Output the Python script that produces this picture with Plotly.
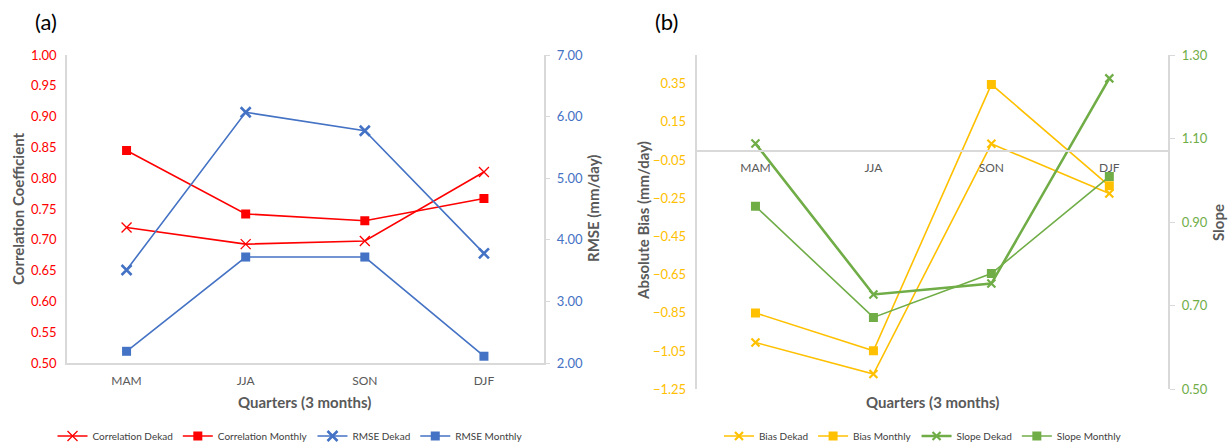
import plotly.graph_objects as go

quarters = ["MAM", "JJA", "SON", "DJF"]

corr_dekad = [0.72, 0.693, 0.698, 0.81]
corr_monthly = [0.845, 0.742, 0.731, 0.767]
rmse_dekad = [3.51, 6.07, 5.77, 3.78]
rmse_monthly = [2.19, 3.72, 3.72, 2.11]

bias_dekad = [-1.005, -1.17, 0.035, -0.225]
bias_monthly = [-0.85, -1.048, 0.346, -0.185]
slope_dekad = [1.088, 0.727, 0.753, 1.244]
slope_monthly = [0.938, 0.672, 0.777, 1.009]

RED = "#FF0000"
BLUE = "#4472C4"
GOLD = "#FFC000"
GREEN = "#70AD47"
GRAY = "#595959"
AXIS = "#D9D9D9"
FONT = "Lato"

W, H = 1231, 445

def px(y):
    return 1 - y / H

a_dom_x = [67 / W, 543.5 / W]
b_dom_x = [696.5 / W, 1168.3 / W]
a_dom_y = [px(363), px(55)]
b_dom_y = [px(389.3), px(55)]

b_range = [-1.25, 0.5]
# position of the category axis crossing the bias axis at zero
b_cross = b_dom_y[0] + (0 - b_range[0]) / (b_range[1] - b_range[0]) * (b_dom_y[1] - b_dom_y[0])

fig = go.Figure()

def add(name, x, y, color, symbol, size, lw, xa, ya, legend, mlw=None):
    marker = dict(symbol=symbol, size=size, color=color)
    if mlw is not None:
        marker["line"] = dict(color=color, width=mlw)
    fig.add_trace(go.Scatter(x=x, y=y, name=name, mode="lines+markers",
                             line=dict(color=color, width=lw), marker=marker,
                             xaxis=xa, yaxis=ya, legend=legend))

add("Correlation Dekad", quarters, corr_dekad, RED, "x-thin", 10, 1.6, "x", "y", "legend", 1.3)
add("Correlation Monthly", quarters, corr_monthly, RED, "square", 9, 1.6, "x", "y", "legend")
add("RMSE Dekad", quarters, rmse_dekad, BLUE, "x-thin", 10, 1.6, "x", "y2", "legend", 2.6)
add("RMSE Monthly", quarters, rmse_monthly, BLUE, "square", 9, 1.6, "x", "y2", "legend")

add("Bias Dekad", quarters, bias_dekad, GOLD, "x-thin", 8, 1.6, "x2", "y3", "legend2", 2.2)
add("Bias Monthly", quarters, bias_monthly, GOLD, "square", 9, 1.6, "x2", "y3", "legend2")
add("Slope Dekad", quarters, slope_dekad, GREEN, "x-thin", 8, 2.6, "x2", "y4", "legend2", 2.2)
add("Slope Monthly", quarters, slope_monthly, GREEN, "square", 9, 1.6, "x2", "y4", "legend2")

cat_font = dict(family=FONT, size=12, color=GRAY)
leg_font = dict(family=FONT, size=10, color="#404040")

fig.update_layout(
    width=W, height=H,
    margin=dict(l=0, r=0, t=0, b=0, autoexpand=False),
    paper_bgcolor="white", plot_bgcolor="white",
    font=dict(family=FONT, color=GRAY),
    xaxis=dict(domain=a_dom_x, anchor="y", showline=True, linecolor=AXIS, linewidth=1.5,
               showgrid=False, ticks="", tickfont=cat_font, range=[-0.5, 3.5],
               fixedrange=True, ticklabelstandoff=6),
    yaxis=dict(domain=a_dom_y, anchor="x", range=[0.5, 1.0], dtick=0.05, tick0=0.5,
               tickformat=".2f", showline=True, linecolor=AXIS, linewidth=1.5,
               showgrid=False, zeroline=False, ticks="",
               tickfont=dict(family=FONT, size=13, color=RED), ticklabelstandoff=6),
    yaxis2=dict(overlaying="y", anchor="x", side="right", range=[2, 7], dtick=1,
                tickformat=".2f", showline=True, linecolor=AXIS, linewidth=1.5,
                showgrid=False, zeroline=False, ticks="outside", ticklen=5, tickcolor=AXIS,
                tickfont=dict(family=FONT, size=13, color=BLUE), ticklabelstandoff=4),
    xaxis2=dict(domain=b_dom_x, anchor="free", position=b_cross, showline=True,
                linecolor=AXIS, linewidth=1.5, showgrid=False, ticks="", tickfont=cat_font,
                range=[-0.5, 3.5], ticklabelstandoff=6),
    yaxis3=dict(domain=b_dom_y, anchor="x2", range=b_range, dtick=0.2, tick0=-1.25,
                tickformat=".2f", showline=True, linecolor=AXIS, linewidth=1.5,
                showgrid=False, zeroline=False, ticks="",
                tickfont=dict(family=FONT, size=13, color=GOLD), ticklabelstandoff=6),
    yaxis4=dict(overlaying="y3", anchor="x2", side="right", range=[0.5, 1.3], dtick=0.2,
                tick0=0.5, tickformat=".2f", showline=True, linecolor=AXIS, linewidth=1.5,
                showgrid=False, zeroline=False, ticks="outside", ticklen=5, tickcolor=AXIS,
                tickfont=dict(family=FONT, size=13, color=GREEN), ticklabelstandoff=4),
    legend=dict(orientation="h", x=290 / W, xanchor="center", y=px(436), yanchor="middle",
                font=leg_font, bgcolor="rgba(0,0,0,0)", tracegroupgap=0),
    legend2=dict(orientation="h", x=923 / W, xanchor="center", y=px(436), yanchor="middle",
                 font=leg_font, bgcolor="rgba(0,0,0,0)", tracegroupgap=0),
    showlegend=True,
)

ann = []
for txt, x in [("(a)", 46), ("(b)", 666)]:
    ann.append(dict(text=txt, x=x / W, y=px(22), xref="paper", yref="paper", showarrow=False,
                    xanchor="center", yanchor="middle",
                    font=dict(family=FONT, size=22, color="black")))
title_font = dict(family=FONT, size=15, color=GRAY)
for x in [304, 932]:
    ann.append(dict(text="<b>Quarters (3 months)</b>", x=x / W, y=px(402), xref="paper",
                    yref="paper", showarrow=False, xanchor="center", yanchor="middle",
                    font=title_font))
for txt, x, y in [("<b>Correlation Coefficient</b>", 18, 209),
                  ("<b>RMSE (mm/day)</b>", 593, 209),
                  ("<b>Absolute Bias (mm/day)</b>", 643, 221),
                  ("<b>Slope</b>", 1218, 223)]:
    ann.append(dict(text=txt, x=x / W, y=px(y), xref="paper", yref="paper",
                    showarrow=False, textangle=-90, xanchor="center", yanchor="middle",
                    font=title_font))
fig.update_layout(annotations=ann)

fig.write_html("out.html")
